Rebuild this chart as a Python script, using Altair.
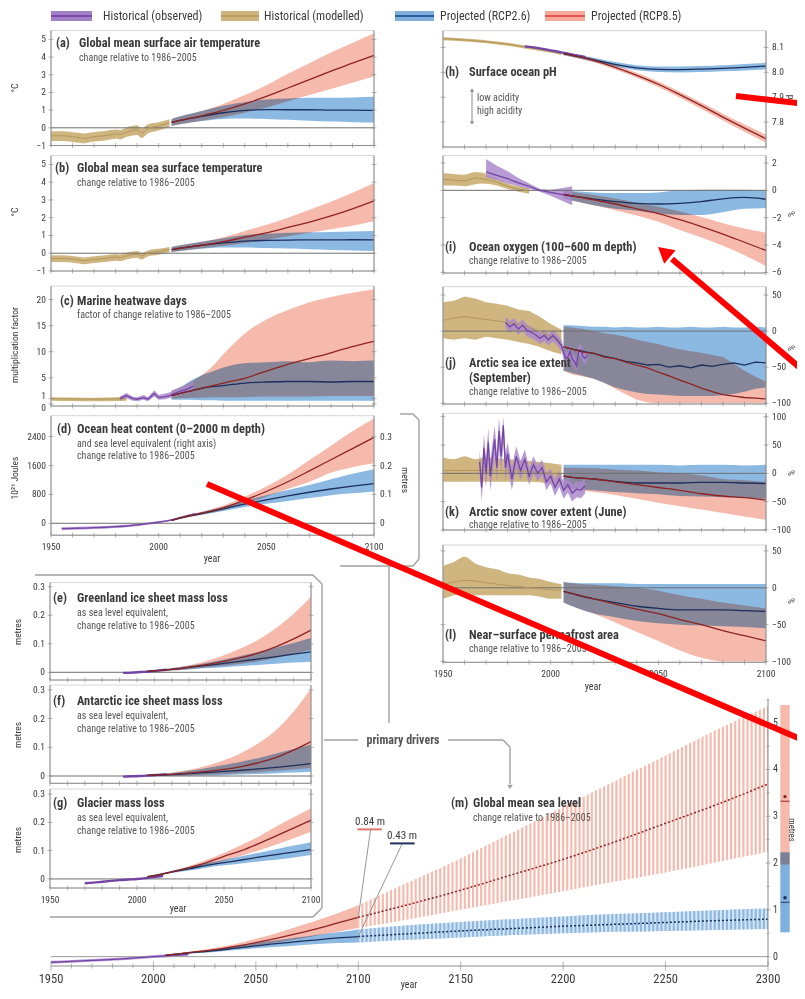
import altair as alt
import pandas as pd

# ======================= DATA =======================
YP = [2006, 2010, 2020, 2030, 2040, 2050, 2060, 2070, 2080, 2090, 2100]
DEC = [1950, 1960, 1970, 1980, 1990, 2000, 2010, 2020, 2030, 2040, 2050, 2060, 2070, 2080, 2090, 2100]
XLAB = [1950, 2000, 2050, 2100]

# (a) surface air temperature
a_hist_years = [1950, 1955, 1960, 1963, 1965, 1970, 1975, 1980, 1982, 1985, 1990, 1992, 1995, 2000, 2005]
a_hist = [-0.45, -0.45, -0.50, -0.55, -0.60, -0.50, -0.45, -0.35, -0.38, -0.25, -0.12, -0.30, -0.05, 0.10, 0.28]
a_hist_lo = [-0.75, -0.75, -0.80, -0.85, -0.88, -0.78, -0.72, -0.62, -0.66, -0.52, -0.40, -0.58, -0.32, -0.15, 0.05]
a_hist_hi = [-0.20, -0.20, -0.25, -0.28, -0.32, -0.24, -0.18, -0.10, -0.12, 0.02, 0.14, -0.04, 0.20, 0.32, 0.48]
a_r85 = [0.30, 0.42, 0.68, 0.98, 1.35, 1.78, 2.25, 2.72, 3.20, 3.65, 4.10]
a_r85_lo = [0.10, 0.20, 0.40, 0.60, 0.85, 1.15, 1.50, 1.85, 2.20, 2.55, 2.90]
a_r85_hi = [0.50, 0.65, 0.95, 1.35, 1.85, 2.40, 3.05, 3.65, 4.25, 4.80, 5.35]
a_r26 = [0.30, 0.42, 0.65, 0.85, 0.98, 1.03, 1.02, 1.02, 1.00, 1.00, 0.98]
a_r26_lo = [0.10, 0.20, 0.38, 0.50, 0.52, 0.50, 0.45, 0.40, 0.35, 0.32, 0.30]
a_r26_hi = [0.50, 0.65, 0.95, 1.25, 1.45, 1.60, 1.65, 1.70, 1.70, 1.72, 1.75]

# (b) sea surface temperature
b_hist = [-0.30, -0.30, -0.33, -0.38, -0.42, -0.35, -0.30, -0.22, -0.25, -0.15, -0.05, -0.15, 0.00, 0.10, 0.20]
b_hist_lo = [-0.50, -0.50, -0.53, -0.58, -0.62, -0.55, -0.50, -0.42, -0.45, -0.35, -0.25, -0.35, -0.18, -0.08, 0.05]
b_hist_hi = [-0.12, -0.12, -0.15, -0.20, -0.24, -0.17, -0.12, -0.05, -0.07, 0.03, 0.12, 0.02, 0.16, 0.25, 0.35]
b_r85 = [0.20, 0.28, 0.45, 0.65, 0.90, 1.15, 1.45, 1.75, 2.10, 2.50, 2.95]
b_r85_lo = [0.05, 0.12, 0.28, 0.42, 0.58, 0.75, 0.95, 1.15, 1.35, 1.55, 1.80]
b_r85_hi = [0.35, 0.45, 0.65, 0.90, 1.25, 1.60, 2.00, 2.45, 2.90, 3.40, 3.95]
b_r26 = [0.20, 0.28, 0.45, 0.58, 0.68, 0.72, 0.74, 0.75, 0.75, 0.76, 0.75]
b_r26_lo = [0.05, 0.12, 0.25, 0.32, 0.32, 0.30, 0.26, 0.22, 0.18, 0.15, 0.12]
b_r26_hi = [0.35, 0.45, 0.65, 0.85, 1.02, 1.10, 1.15, 1.18, 1.20, 1.22, 1.25]

# (c) marine heatwave days
c_hist_years = [1950, 1960, 1970, 1980, 1985]
c_hist = [1.0, 0.95, 0.9, 0.95, 1.0]
c_hist_lo = [0.6, 0.55, 0.5, 0.55, 0.6]
c_hist_hi = [1.3, 1.25, 1.2, 1.3, 1.35]
c_obs_years = [1982, 1985, 1988, 1990, 1993, 1995, 1998, 2000, 2003, 2005, 2008, 2010, 2013, 2016]
c_obs = [1.0, 1.6, 1.0, 0.9, 1.2, 0.9, 2.0, 1.2, 1.4, 1.6, 2.1, 2.4, 2.8, 3.4]
c_obs_lo = [0.6, 1.1, 0.6, 0.5, 0.8, 0.5, 1.4, 0.8, 0.9, 1.1, 1.5, 1.7, 2.0, 2.5]
c_obs_hi = [1.4, 2.1, 1.4, 1.3, 1.7, 1.3, 2.6, 1.7, 2.0, 2.2, 2.8, 3.2, 3.6, 4.3]
c_years = [2006, 2010, 2015, 2020, 2025, 2030, 2040, 2050, 2060, 2070, 2080, 2090, 2100]
c_r85 = [1.6, 2.0, 2.5, 3.0, 3.5, 4.0, 4.9, 6.3, 7.6, 8.7, 9.8, 11.0, 12.0]
c_r85_lo = [1.0, 1.1, 1.2, 1.2, 1.3, 1.3, 1.3, 1.4, 1.4, 1.4, 1.5, 1.5, 1.5]
c_r85_hi = [2.5, 3.2, 4.2, 5.5, 7.2, 9.5, 13.5, 16.2, 18.0, 19.5, 20.5, 21.3, 22.0]
c_r26 = [1.6, 2.0, 2.5, 3.0, 3.3, 3.5, 4.0, 4.2, 4.3, 4.3, 4.2, 4.3, 4.3]
c_r26_lo = [0.8, 0.8, 0.8, 0.7, 0.7, 0.6, 0.6, 0.6, 0.6, 0.6, 0.6, 0.6, 0.6]
c_r26_hi = [2.5, 3.2, 4.5, 5.5, 6.2, 7.0, 7.8, 8.0, 8.2, 8.0, 8.3, 8.2, 8.3]

# (d) ocean heat content (10^21 J)
d_obs_years = [1955, 1960, 1965, 1970, 1975, 1980, 1985, 1990, 1995, 2000, 2005, 2010, 2015, 2017]
d_obs = [-150, -140, -135, -120, -110, -95, -75, -45, -10, 30, 80, 150, 230, 260]
d_obs_lo = [-190, -180, -175, -160, -148, -132, -110, -80, -42, 0, 55, 125, 200, 230]
d_obs_hi = [-110, -100, -95, -80, -72, -58, -40, -10, 22, 60, 105, 175, 260, 290]
d_r85 = [80, 150, 280, 430, 640, 880, 1150, 1450, 1760, 2070, 2380]
d_r85_lo = [60, 120, 240, 370, 540, 740, 950, 1150, 1400, 1550, 1660]
d_r85_hi = [100, 180, 320, 490, 740, 1020, 1350, 1750, 2150, 2550, 2900]
d_r26 = [80, 150, 270, 400, 530, 650, 760, 860, 950, 1030, 1100]
d_r26_lo = [60, 120, 235, 340, 450, 540, 620, 700, 780, 830, 880]
d_r26_hi = [100, 180, 310, 460, 620, 780, 920, 1060, 1220, 1370, 1500]
d_right_pos = [0, 800, 1600, 2400]
d_right_lab = ["0", "0.1", "0.2", "0.3"]

# (e) Greenland, (f) Antarctic, (g) glaciers (metres SLE)
ef_obs_years = [1992, 1997, 2002, 2007, 2012, 2017]
e_obs = [-0.002, -0.001, 0.001, 0.003, 0.006, 0.009]
e_r85 = [0.003, 0.005, 0.010, 0.018, 0.027, 0.038, 0.052, 0.068, 0.090, 0.117, 0.148]
e_r85_lo = [0.002, 0.003, 0.006, 0.011, 0.017, 0.023, 0.030, 0.039, 0.050, 0.064, 0.080]
e_r85_hi = [0.004, 0.007, 0.015, 0.025, 0.040, 0.060, 0.085, 0.115, 0.155, 0.205, 0.265]
e_r26 = [0.003, 0.005, 0.010, 0.017, 0.024, 0.031, 0.039, 0.047, 0.055, 0.064, 0.072]
e_r26_lo = [0.002, 0.003, 0.006, 0.010, 0.015, 0.018, 0.022, 0.026, 0.030, 0.034, 0.037]
e_r26_hi = [0.004, 0.007, 0.014, 0.023, 0.033, 0.045, 0.058, 0.072, 0.087, 0.103, 0.120]
f_obs = [-0.002, -0.001, 0.000, 0.002, 0.004, 0.006]
f_r85 = [0.002, 0.003, 0.006, 0.010, 0.016, 0.023, 0.033, 0.047, 0.065, 0.090, 0.120]
f_r85_lo = [0.0, 0.0, 0.001, 0.002, 0.004, 0.006, 0.010, 0.013, 0.018, 0.023, 0.028]
f_r85_hi = [0.004, 0.006, 0.012, 0.022, 0.036, 0.055, 0.080, 0.115, 0.160, 0.225, 0.305]
f_r26 = [0.002, 0.003, 0.005, 0.008, 0.012, 0.016, 0.020, 0.025, 0.030, 0.036, 0.043]
f_r26_lo = [0.0, 0.0, 0.0, 0.001, 0.002, 0.003, 0.005, 0.007, 0.010, 0.012, 0.015]
f_r26_hi = [0.004, 0.006, 0.010, 0.018, 0.028, 0.038, 0.050, 0.063, 0.078, 0.094, 0.110]
g_obs_years = [1970, 1975, 1980, 1985, 1990, 1995, 2000, 2005, 2010, 2015]
g_obs = [-0.015, -0.013, -0.010, -0.007, -0.004, -0.002, 0.000, 0.003, 0.007, 0.011]
g_r85 = [0.008, 0.012, 0.025, 0.040, 0.058, 0.080, 0.100, 0.125, 0.152, 0.180, 0.208]
g_r85_lo = [0.006, 0.010, 0.022, 0.034, 0.048, 0.064, 0.082, 0.101, 0.122, 0.144, 0.167]
g_r85_hi = [0.010, 0.015, 0.028, 0.046, 0.068, 0.092, 0.120, 0.150, 0.185, 0.218, 0.250]
g_r26 = [0.008, 0.012, 0.025, 0.036, 0.048, 0.058, 0.067, 0.077, 0.086, 0.095, 0.104]
g_r26_lo = [0.006, 0.010, 0.021, 0.030, 0.040, 0.048, 0.055, 0.062, 0.068, 0.076, 0.085]
g_r26_hi = [0.010, 0.015, 0.029, 0.042, 0.056, 0.068, 0.080, 0.093, 0.105, 0.118, 0.130]
sle_ticks = [0, 0.1, 0.2, 0.3]
sle_labels = ["0", "0.1", "0.2", "0.3"]

# (h) surface ocean pH
h_hist_years = [1950, 1960, 1970, 1980, 1990, 2000, 2005]
h_hist = [8.135, 8.130, 8.123, 8.113, 8.099, 8.084, 8.075]
h_hist_lo = [8.129, 8.124, 8.117, 8.107, 8.093, 8.078, 8.069]
h_hist_hi = [8.141, 8.136, 8.129, 8.119, 8.105, 8.090, 8.081]
h_obs_years = [1988, 1995, 2000, 2005, 2010, 2016]
h_obs = [8.104, 8.096, 8.088, 8.080, 8.071, 8.062]
h_r85 = [8.075, 8.068, 8.048, 8.020, 7.988, 7.952, 7.910, 7.866, 7.820, 7.776, 7.733]
h_r85_lo = [8.068, 8.061, 8.040, 8.011, 7.978, 7.941, 7.898, 7.853, 7.806, 7.761, 7.717]
h_r85_hi = [8.082, 8.075, 8.056, 8.029, 7.998, 7.963, 7.922, 7.879, 7.834, 7.791, 7.749]
h_r26 = [8.075, 8.068, 8.050, 8.032, 8.018, 8.012, 8.011, 8.013, 8.016, 8.020, 8.025]
h_r26_lo = [8.068, 8.061, 8.042, 8.023, 8.008, 8.001, 7.999, 8.001, 8.004, 8.007, 8.012]
h_r26_hi = [8.082, 8.075, 8.058, 8.041, 8.028, 8.023, 8.023, 8.025, 8.028, 8.033, 8.038]

# (i) ocean oxygen (%)
i_hist_years = [1950, 1955, 1960, 1965, 1968, 1975, 1980, 1985, 1990]
i_hist = [0.80, 0.75, 0.70, 0.90, 0.85, 0.60, 0.30, 0.10, -0.05]
i_hist_lo = [0.35, 0.35, 0.30, 0.45, 0.50, 0.35, 0.10, -0.10, -0.25]
i_hist_hi = [1.25, 1.20, 1.15, 1.35, 1.30, 0.85, 0.50, 0.30, 0.15]
i_obs_years = [1970, 1975, 1980, 1985, 1990, 1995, 2000, 2005, 2010]
i_obs = [1.35, 1.10, 0.85, 0.55, 0.30, 0.00, -0.15, -0.30, -0.45]
i_obs_lo = [0.95, 0.75, 0.50, 0.30, 0.12, -0.10, -0.40, -0.75, -1.10]
i_obs_hi = [2.30, 1.80, 1.40, 0.90, 0.50, 0.10, 0.05, 0.15, 0.30]
i_r85 = [-0.30, -0.40, -0.70, -1.00, -1.35, -1.70, -2.15, -2.65, -3.20, -3.80, -4.40]
i_r85_lo = [-0.60, -0.75, -1.10, -1.45, -1.85, -2.30, -2.90, -3.45, -4.05, -4.75, -5.55]
i_r85_hi = [0.00, -0.10, -0.35, -0.60, -0.90, -1.20, -1.55, -1.95, -2.40, -2.80, -3.10]
i_r26 = [-0.30, -0.40, -0.65, -0.82, -0.95, -1.00, -0.95, -0.82, -0.62, -0.52, -0.65]
i_r26_lo = [-0.60, -0.75, -1.10, -1.35, -1.50, -1.70, -1.80, -1.80, -1.60, -1.35, -1.30]
i_r26_hi = [0.00, -0.05, -0.15, -0.20, -0.20, -0.15, 0.00, 0.05, 0.05, 0.05, 0.00]

# (j) Arctic sea ice extent, September (%)
j_hist_years = [1950, 1955, 1960, 1965, 1970, 1975, 1980, 1985, 1990, 1995, 2000, 2005]
j_hist = [15, 18, 20, 18, 16, 14, 12, 10, 5, 0, -8, -15]
j_hist_lo = [-10, -12, -10, -12, -8, -10, -12, -15, -18, -22, -28, -32]
j_hist_hi = [40, 42, 48, 45, 40, 38, 35, 30, 28, 20, 10, 2]
j_obs_years = [1979, 1981, 1983, 1985, 1987, 1989, 1991, 1993, 1995, 1997, 1999, 2001, 2003, 2005,
               2007, 2008, 2009, 2010, 2011, 2012, 2013, 2014, 2015, 2016, 2017]
j_obs = [12, 6, 10, 3, 8, 1, -2, -5, -10, -6, -12, -6, -12, -20, -38, -36, -28, -38, -42, -48, -28, -26, -35, -38, -33]
j_obs_lo = [4, -2, 2, -5, 0, -7, -10, -13, -18, -14, -20, -14, -20, -28, -46, -44, -36, -46, -50, -56, -36, -34, -43, -46, -41]
j_obs_hi = [20, 14, 18, 11, 16, 9, 6, 3, -2, 2, -4, 2, -4, -12, -30, -28, -20, -30, -34, -40, -20, -18, -27, -30, -25]
j_years = [2006, 2010, 2015, 2020, 2025, 2030, 2035, 2040, 2045, 2050, 2055, 2060, 2065, 2070, 2075, 2080, 2085, 2090, 2095, 2100]
j_r85 = [-22, -25, -29, -31, -36, -38, -43, -47, -51, -57, -62, -68, -73, -79, -84, -88, -90, -92, -93, -94]
j_r85_lo = [-55, -60, -63, -66, -72, -80, -88, -95, -99, -100, -100, -100, -100, -100, -100, -100, -100, -100, -100, -100]
j_r85_hi = [6, 5, 3, 0, -3, -5, -8, -12, -15, -18, -22, -25, -28, -30, -33, -36, -45, -55, -63, -70]
j_r26 = [-22, -25, -28, -31, -35, -38, -42, -44, -47, -46, -50, -48, -51, -47, -49, -46, -44, -47, -43, -44]
j_r26_lo = [-55, -58, -62, -66, -72, -78, -82, -85, -87, -88, -89, -90, -90, -90, -90, -89, -87, -84, -80, -78]
j_r26_hi = [8, 8, 7, 6, 6, 5, 6, 5, 5, 6, 5, 5, 6, 5, 5, 6, 5, 5, 6, 5]

# (k) Arctic snow cover extent, June (%)
k_hist_years = [1950, 1955, 1960, 1965, 1970, 1980, 1990, 2000, 2005]
k_hist = [5, 5, 5, 5, 5, 5, 3, 0, -2]
k_hist_lo = [-15, -15, -15, -15, -15, -15, -15, -18, -20]
k_hist_hi = [28, 25, 30, 25, 28, 25, 22, 18, 15]
k_obs_years = [1967, 1968, 1969, 1970, 1971, 1972, 1973, 1974, 1975, 1976, 1977, 1978, 1979, 1980, 1982, 1984,
               1986, 1988, 1990, 1992, 1994, 1996, 1998, 2000, 2002, 2004, 2006, 2008, 2010, 2012, 2014, 2016]
k_obs = [20, -25, 45, 0, 55, -5, 30, 60, 10, 75, 30, 85, 10, 35, -10, 30, 5, 25, -5, 15, 0, 10, -15, -5, -25, -10, -30, -20, -35, -28, -30, -22]
k_obs_lo = [0, -50, 15, -25, 25, -30, 0, 30, -15, 45, 0, 55, -15, 10, -30, 10, -12, 8, -20, 0, -14, -4, -30, -18, -40, -24, -45, -34, -50, -42, -44, -36]
k_obs_hi = [40, 0, 70, 25, 80, 20, 55, 85, 35, 98, 55, 100, 35, 55, 10, 48, 22, 42, 10, 30, 14, 24, 0, 8, -10, 4, -15, -6, -20, -14, -16, -8]
k_r85 = [-5, -7, -10, -15, -20, -25, -30, -36, -40, -43, -47]
k_r85_lo = [-25, -28, -33, -38, -45, -52, -58, -64, -70, -76, -82]
k_r85_hi = [10, 10, 9, 7, 5, 2, 0, -4, -10, -12, -15]
k_r26 = [-5, -7, -10, -14, -17, -17, -17, -16, -16, -17, -18]
k_r26_lo = [-25, -27, -30, -33, -35, -37, -40, -41, -42, -43, -45]
k_r26_hi = [15, 15, 15, 15, 15, 15, 14, 15, 15, 14, 15]

# (l) near-surface permafrost area (%)
l_hist_years = [1950, 1955, 1960, 1965, 1970, 1975, 1980, 1985, 1990, 1995, 2000, 2005]
l_hist = [5, 8, 10, 9, 7, 5, 3, 2, 0, -1, -3, -3]
l_hist_lo = [-15, -10, -8, -10, -10, -10, -10, -10, -10, -12, -15, -15]
l_hist_hi = [30, 35, 42, 33, 28, 25, 20, 18, 14, 12, 8, 5]
l_r85 = [-5, -8, -15, -22, -29, -35, -43, -50, -58, -65, -72]
l_r85_lo = [-20, -25, -35, -47, -60, -72, -85, -95, -100, -100, -100]
l_r85_hi = [8, 6, 4, 2, 0, -4, -10, -15, -20, -24, -28]
l_r26 = [-5, -8, -15, -20, -25, -28, -30, -30, -30, -31, -32]
l_r26_lo = [-20, -25, -35, -40, -45, -48, -50, -51, -52, -53, -55]
l_r26_hi = [8, 7, 6, 6, 5, 5, 5, 5, 5, 5, 5]
pct_ticks = [-100, -50, 0, 50]
pct_labels = ["−100", "−50", "0", "50"]

# (m) global mean sea level (metres)
m_obs_years = [1950, 1960, 1970, 1980, 1990, 2000, 2010, 2017]
m_obs = [-0.12, -0.10, -0.08, -0.06, -0.03, 0.00, 0.03, 0.05]
m_obs_lo = [-0.15, -0.13, -0.11, -0.09, -0.06, -0.03, 0.00, 0.02]
m_obs_hi = [-0.09, -0.07, -0.05, -0.03, 0.00, 0.03, 0.06, 0.08]
m_r85 = [0.03, 0.05, 0.10, 0.15, 0.22, 0.30, 0.39, 0.49, 0.60, 0.72, 0.84]
m_r85_lo = [0.02, 0.04, 0.08, 0.12, 0.17, 0.23, 0.30, 0.37, 0.45, 0.53, 0.61]
m_r85_hi = [0.04, 0.06, 0.12, 0.19, 0.27, 0.38, 0.50, 0.64, 0.78, 0.93, 1.10]
m_r26 = [0.03, 0.05, 0.09, 0.13, 0.18, 0.23, 0.28, 0.32, 0.36, 0.40, 0.43]
m_r26_lo = [0.02, 0.04, 0.07, 0.10, 0.14, 0.18, 0.21, 0.24, 0.27, 0.29, 0.30]
m_r26_hi = [0.04, 0.06, 0.11, 0.16, 0.22, 0.29, 0.35, 0.41, 0.47, 0.52, 0.58]
m_ext_years = [2100, 2125, 2150, 2175, 2200, 2225, 2250, 2275, 2300]
m_r85_ext = [0.84, 1.12, 1.42, 1.75, 2.08, 2.45, 2.85, 3.25, 3.69]
m_r85_ext_lo = [0.61, 0.80, 1.00, 1.20, 1.40, 1.60, 1.80, 2.02, 2.24]
m_r85_ext_hi = [1.10, 1.60, 2.10, 2.65, 3.20, 3.75, 4.30, 4.85, 5.35]
m_r26_ext = [0.43, 0.49, 0.55, 0.60, 0.65, 0.69, 0.73, 0.77, 0.80]
m_r26_ext_lo = [0.30, 0.36, 0.41, 0.46, 0.50, 0.53, 0.55, 0.57, 0.59]
m_r26_ext_hi = [0.58, 0.67, 0.74, 0.80, 0.86, 0.91, 0.95, 0.99, 1.03]
m_bar_r85 = [1.97, 5.38]
m_bar_r26 = [0.52, 2.23]
m_bar_median = [3.32, 1.16]

# ======================= STYLE / LAYOUT =======================
FONT = "Liberation Sans Narrow, Roboto Condensed, DejaVu Sans Condensed, Arial Narrow, Liberation Sans, sans-serif"
M = 8  # page margin
C_TAN, C_TAN_L = "#cfb681", "#b3975a"
C_OBS, C_OBS_L = "#ab88cc", "#7444a3"
C_R26, C_R26_L = "#8cb9e2", "#1d2f5c"
C_R85, C_R85_L = "#f6baad", "#8e2323"
AX = "#8c8c8c"
FR = "#d6d6d6"
ZL = "#707070"
TXT = "#3a3a3a"
FS_TICK = 9.5
FS_TITLE = 12.4
FS_SUB = 10

GEOM = {
    'a': dict(x=(1950, 2100), xr=(51, 374), y=(-1, 5.5), yr=(145.5, 30.5)),
    'b': dict(x=(1950, 2100), xr=(51, 374), y=(-1, 5.5), yr=(271, 155.5)),
    'c': dict(x=(1950, 2100), xr=(51, 374), y=(-0.4, 22.6), yr=(406, 286)),
    'd': dict(x=(1950, 2100), xr=(51, 374), y=(-330, 2980), yr=(535.2, 415.7)),
    'e': dict(x=(1950, 2100), xr=(50, 311), y=(-0.027, 0.315), yr=(680, 582.5)),
    'f': dict(x=(1950, 2100), xr=(50, 311), y=(-0.0254, 0.317), yr=(783.3, 685)),
    'g': dict(x=(1950, 2100), xr=(50, 311), y=(-0.032, 0.318), yr=(888, 789)),
    'h': dict(x=(1950, 2100), xr=(443, 766), y=(7.7, 8.167), yr=(147, 30.7)),
    'i': dict(x=(1950, 2100), xr=(443, 766), y=(-6.05, 2.55), yr=(273, 155.5)),
    'j': dict(x=(1950, 2100), xr=(443, 766), y=(-101, 61.5), yr=(404, 286.7)),
    'k': dict(x=(1950, 2100), xr=(443, 766), y=(-100, 106), yr=(530, 413.3)),
    'l': dict(x=(1950, 2100), xr=(443, 766), y=(-101, 58), yr=(662.3, 545)),
    'm': dict(x=(1950, 2300), xr=(51, 768), y=(-0.2, 5.5), yr=(966, 699.3)),
}


def pdf(**cols):
    return pd.DataFrame(cols)


class Panel:
    def __init__(self, key):
        g = GEOM[key]
        self.x0, self.x1 = g['x']
        self.y0, self.y1 = g['y']
        self.xs = alt.Scale(domain=[self.x0, self.x1], range=[g['xr'][0] - M, g['xr'][1] - M], nice=False, zero=False)
        self.ys = alt.Scale(domain=[self.y0, self.y1], range=[g['yr'][0] - M, g['yr'][1] - M], nice=False, zero=False)
        self.L = []

    def X(self, f):
        return alt.X(f + ':Q', scale=self.xs, axis=None)

    def Y(self, f):
        return alt.Y(f + ':Q', scale=self.ys, axis=None)

    def band(self, t, lo, hi, color, opacity=1.0, blend=None, interp='monotone'):
        kw = dict(color=color, opacity=opacity, interpolate=interp)
        if blend:
            kw['blend'] = blend
        self.L.append(alt.Chart(pdf(t=t, lo=lo, hi=hi)).mark_area(**kw).encode(
            x=self.X('t'), y=self.Y('lo'), y2=alt.Y2('hi')))

    def line(self, t, v, color, width=1.2, dash=None, interp='monotone'):
        kw = dict(color=color, strokeWidth=width, interpolate=interp)
        if dash:
            kw['strokeDash'] = dash
        self.L.append(alt.Chart(pdf(t=t, v=v)).mark_line(**kw).encode(x=self.X('t'), y=self.Y('v')))

    def rect(self, t0, t1, v0, v1, color, blend=None):
        kw = dict(color=color)
        if blend:
            kw['blend'] = blend
        self.L.append(alt.Chart(pdf(a=[t0], b=[t1], c=[v0], d=[v1])).mark_rect(**kw).encode(
            x=self.X('a'), x2=alt.X2('b'), y=self.Y('c'), y2=alt.Y2('d')))

    def frame(self, color=FR):
        self.L.append(alt.Chart(pdf(a=[self.x0], b=[self.x1], c=[self.y0], d=[self.y1])).mark_rect(
            fill='white', fillOpacity=0, stroke=color, strokeWidth=1).encode(
            x=self.X('a'), x2=alt.X2('b'), y=self.Y('c'), y2=alt.Y2('d')))

    def hline(self, v, color=ZL, width=1.0):
        self.L.append(alt.Chart(pdf(a=[self.x0], b=[self.x1], v=[v])).mark_rule(color=color, strokeWidth=width).encode(
            x=self.X('a'), x2=alt.X2('b'), y=self.Y('v')))

    def vline(self, t, color=AX, width=1.0):
        self.L.append(alt.Chart(pdf(t=[t], c=[self.y0], d=[self.y1])).mark_rule(color=color, strokeWidth=width).encode(
            x=self.X('t'), y=self.Y('c'), y2=alt.Y2('d')))

    def yticks(self, vals, labels=None, lpos=None, side='left', size=5, fs=FS_TICK, dx=None):
        t = self.x0 if side == 'left' else self.x1
        self.L.append(alt.Chart(pdf(t=[t] * len(vals), v=vals)).mark_tick(
            orient='horizontal', size=size, thickness=0.9, color=AX).encode(x=self.X('t'), y=self.Y('v')))
        if labels:
            pos = lpos if lpos else vals
            if dx is None:
                dx = -5 if side == 'left' else 6
            self.L.append(alt.Chart(pdf(t=[t] * len(pos), v=pos, s=labels)).mark_text(
                align='right' if side == 'left' else 'left', baseline='middle', dx=dx,
                fontSize=fs, font=FONT, color=TXT).encode(x=self.X('t'), y=self.Y('v'), text='s:N'))

    def xticks(self, vals, size=5, labels=None, fs=FS_TICK, dy=7):
        self.L.append(alt.Chart(pdf(t=vals, v=[self.y0] * len(vals))).mark_tick(
            orient='vertical', size=size, thickness=0.9, color=AX).encode(x=self.X('t'), y=self.Y('v')))
        if labels:
            self.L.append(alt.Chart(pdf(t=labels, v=[self.y0] * len(labels), s=[str(v) for v in labels])).mark_text(
                align='center', baseline='top', dy=dy, fontSize=fs, font=FONT, color=TXT).encode(
                x=self.X('t'), y=self.Y('v'), text='s:N'))

    def chart(self):
        return alt.layer(*self.L)


def std(key, hist=None, obs=None, r85=None, r26=None, ptimes=YP, zero=True, left=None, right=None,
        xlabels=False, interp='monotone', obs_interp='linear'):
    p = Panel(key)
    p.frame()
    if hist:
        p.band(hist[0], hist[2], hist[3], C_TAN, interp=interp)
    if r85:
        p.band(ptimes, r85[1], r85[2], C_R85, interp=interp)
    if r26:
        p.band(ptimes, r26[1], r26[2], C_R26, blend='multiply', interp=interp)
    if obs and len(obs) == 4:
        p.band(obs[0], obs[2], obs[3], C_OBS, opacity=0.85, interp=obs_interp)
    if zero:
        p.hline(0)
    if hist:
        p.line(hist[0], hist[1], C_TAN_L, 1.0, interp=interp)
    if obs:
        p.line(obs[0], obs[1], C_OBS_L, 1.3 if len(obs) == 4 else 2.4, interp=obs_interp)
    if r26:
        p.line(ptimes, r26[0], C_R26_L, 1.3, interp=interp)
    if r85:
        p.line(ptimes, r85[0], C_R85_L, 1.3, interp=interp)
    if left:
        p.vline(p.x0)
        p.yticks(*left, side='left')
    if right:
        p.vline(p.x1)
        p.yticks(*right, side='right')
    p.hline(p.y0, AX, 1.0)
    p.xticks(DEC, labels=XLAB if xlabels else None)
    return p


temp_ticks = ([-1, 0, 1, 2, 3, 4, 5], ["−1", "0", "1", "2", "3", "4", "5"])
c_ticks = [0, 1, 5, 10, 15, 20]

pa = std('a', hist=(a_hist_years, a_hist, a_hist_lo, a_hist_hi), r85=(a_r85, a_r85_lo, a_r85_hi),
         r26=(a_r26, a_r26_lo, a_r26_hi), left=temp_ticks, right=(temp_ticks[0],))
pb = std('b', hist=(a_hist_years, b_hist, b_hist_lo, b_hist_hi), r85=(b_r85, b_r85_lo, b_r85_hi),
         r26=(b_r26, b_r26_lo, b_r26_hi), left=temp_ticks, right=(temp_ticks[0],))
pc = std('c', hist=(c_hist_years, c_hist, c_hist_lo, c_hist_hi), obs=(c_obs_years, c_obs, c_obs_lo, c_obs_hi),
         r85=(c_r85, c_r85_lo, c_r85_hi), r26=(c_r26, c_r26_lo, c_r26_hi), ptimes=c_years, zero=False,
         left=(c_ticks, ["0", "1", "5", "10", "15", "20"], [-0.7, 1.6, 5, 10, 15, 20]), right=(c_ticks,))
pd_ = std('d', obs=(d_obs_years, d_obs, d_obs_lo, d_obs_hi), r85=(d_r85, d_r85_lo, d_r85_hi),
          r26=(d_r26, d_r26_lo, d_r26_hi), left=([0, 800, 1600, 2400], ["0", "800", "1600", "2400"]),
          right=(d_right_pos, d_right_lab), xlabels=True, obs_interp='monotone')
pe = std('e', obs=(ef_obs_years, e_obs), r85=(e_r85, e_r85_lo, e_r85_hi), r26=(e_r26, e_r26_lo, e_r26_hi),
         left=(sle_ticks, sle_labels), right=(sle_ticks,), obs_interp='monotone')
pf = std('f', obs=(ef_obs_years, f_obs), r85=(f_r85, f_r85_lo, f_r85_hi), r26=(f_r26, f_r26_lo, f_r26_hi),
         left=(sle_ticks, sle_labels), right=(sle_ticks,), obs_interp='monotone')
pg = std('g', obs=(g_obs_years, g_obs), r85=(g_r85, g_r85_lo, g_r85_hi), r26=(g_r26, g_r26_lo, g_r26_hi),
         left=(sle_ticks, sle_labels), right=(sle_ticks,), xlabels=True, obs_interp='monotone')
ph = std('h', hist=(h_hist_years, h_hist, h_hist_lo, h_hist_hi), obs=(h_obs_years, h_obs),
         r85=(h_r85, h_r85_lo, h_r85_hi), r26=(h_r26, h_r26_lo, h_r26_hi), zero=False,
         left=([7.8, 7.9, 8.0, 8.1],), right=([7.8, 7.9, 8.0, 8.1], ["7.8", "7.9", "8.0", "8.1"]),
         obs_interp='monotone')
pi = std('i', hist=(i_hist_years, i_hist, i_hist_lo, i_hist_hi), obs=(i_obs_years, i_obs, i_obs_lo, i_obs_hi),
         r85=(i_r85, i_r85_lo, i_r85_hi), r26=(i_r26, i_r26_lo, i_r26_hi),
         left=([-6, -4, -2, 0, 2],), right=([-6, -4, -2, 0, 2], ["−6", "−4", "−2", "0", "2"]))
pj = std('j', hist=(j_hist_years, j_hist, j_hist_lo, j_hist_hi), obs=(j_obs_years, j_obs, j_obs_lo, j_obs_hi),
         r85=(j_r85, j_r85_lo, j_r85_hi), r26=(j_r26, j_r26_lo, j_r26_hi), ptimes=j_years,
         left=(pct_ticks,), right=(pct_ticks, pct_labels), interp='linear')
pk = std('k', hist=(k_hist_years, k_hist, k_hist_lo, k_hist_hi), obs=(k_obs_years, k_obs, k_obs_lo, k_obs_hi),
         r85=(k_r85, k_r85_lo, k_r85_hi), r26=(k_r26, k_r26_lo, k_r26_hi),
         left=([-100, -50, 0, 50, 100],), right=([-100, -50, 0, 50, 100], ["−100", "−50", "0", "50", "100"]))
pl = std('l', hist=(l_hist_years, l_hist, l_hist_lo, l_hist_hi), r85=(l_r85, l_r85_lo, l_r85_hi),
         r26=(l_r26, l_r26_lo, l_r26_hi), left=(pct_ticks,), right=(pct_ticks, pct_labels), xlabels=True)

# (m) global mean sea level
pm = Panel('m')
pm.band(m_obs_years, m_obs_lo, m_obs_hi, C_OBS, opacity=0.85)
pm.band(YP, m_r85_lo, m_r85_hi, C_R85)
pm.band(YP, m_r26_lo, m_r26_hi, C_R26, blend='multiply')
pm.band(m_ext_years, m_r85_ext_lo, m_r85_ext_hi, C_R85)
pm.band(m_ext_years, m_r26_ext_lo, m_r26_ext_hi, "#7aaad8", blend='multiply')
HATCH = list(range(2101, 2300, 2))  # hatching style of the post-2100 ranges
pm.L.append(alt.Chart(pdf(t=HATCH, lo=[0.1] * len(HATCH), hi=[5.45] * len(HATCH))).mark_rule(
    color='white', strokeWidth=1.9).encode(x=pm.X('t'), y=pm.Y('lo'), y2=alt.Y2('hi')))
pm.band(m_ext_years, m_r26_ext_lo, m_r26_ext_hi, "#a9c9ea", opacity=0.45)
pm.hline(0, "#9a9a9a", 1.0)
pm.line(m_obs_years, m_obs, C_OBS_L, 1.3)
pm.line(YP, m_r26, C_R26_L, 1.3)
pm.line(YP, m_r85, C_R85_L, 1.3)
pm.line(m_ext_years, m_r85_ext, C_R85_L, 1.5, dash=[2, 2])
pm.line(m_ext_years, m_r26_ext, C_R26_L, 1.5, dash=[2, 2])
BAR_T = (2306.0, 2310.6)
pm.rect(BAR_T[0], BAR_T[1], m_bar_r85[0], m_bar_r85[1], C_R85)
pm.rect(BAR_T[0], BAR_T[1], m_bar_r26[0], m_bar_r26[1], "#7fb0dd", blend='multiply')
pm.L.append(alt.Chart(pdf(t=[sum(BAR_T) / 2] * 2, v=m_bar_median, c=[C_R85_L, C_R26_L])).mark_tick(
    orient='horizontal', size=9, thickness=1.4).encode(x=pm.X('t'), y=pm.Y('v'), color=alt.Color('c:N', scale=None)))
pm.L.append(alt.Chart(pdf(t=[sum(BAR_T) / 2] * 2, v=[m_bar_median[0] + 0.1, m_bar_median[1] + 0.1],
                          c=[C_R85_L, C_R26_L])).mark_point(filled=True, size=12, opacity=1).encode(
    x=pm.X('t'), y=pm.Y('v'), color=alt.Color('c:N', scale=None)))
pm.vline(pm.x1)
pm.yticks([0, 1, 2, 3, 4, 5], ["0", "1", "2", "3", "4", "5"], side='right', fs=10, dx=5)
pm.yticks([0.5, 1.5, 2.5, 3.5, 4.5, 5.5], side='right', size=3)
pm.hline(pm.y0, AX, 1.0)
pm.xticks([1960, 1970, 1980, 1990, 2010, 2020, 2030, 2040, 2060, 2070, 2080, 2090], size=5)
pm.xticks([1950, 2000, 2050, 2100, 2150, 2200, 2250, 2300], size=9,
          labels=[1950, 2000, 2050, 2100, 2150, 2200, 2250, 2300], fs=12.5, dy=7)
# annotation leader lines for the 2100 medians
pm.L.append(alt.Chart(pdf(a=[2106.0, 2121.5], b=[2100, 2100], c=[2.72, 2.42], d=[0.84, 0.43])).mark_rule(
    color="#8a8a8a", strokeWidth=0.9).encode(x=pm.X('a'), x2=alt.X2('b'), y=pm.Y('c'), y2=alt.Y2('d')))
pm.L.append(alt.Chart(pdf(a=[2099.5, 2115.5], b=[2111.5, 2127.5], c=[2.72, 2.42], col=["#e07868", C_R26_L])).mark_rule(
    strokeWidth=2).encode(x=pm.X('a'), x2=alt.X2('b'), y=pm.Y('c'), color=alt.Color('col:N', scale=None)))


# ======================= CANVAS (page-pixel annotations) =======================
def P(v):
    return v - M


def ctext(rows, size, weight='normal', color=TXT, align='left', angle=None, baseline='middle'):
    d = pdf(x=[P(r[0]) for r in rows], y=[P(r[1]) for r in rows], s=[r[2] for r in rows])
    kw = dict(font=FONT, fontSize=size, fontWeight=weight, color=color, align=align, baseline=baseline)
    if angle is not None:
        kw['angle'] = angle
    return alt.Chart(d).mark_text(**kw).encode(x=alt.X('x:Q', scale=None), y=alt.Y('y:Q', scale=None), text='s:N')


def crules(segs, color, width, cap='butt'):
    d = pdf(x=[P(s[0]) for s in segs], y=[P(s[1]) for s in segs], x2=[P(s[2]) for s in segs], y2=[P(s[3]) for s in segs])
    return alt.Chart(d).mark_rule(color=color, strokeWidth=width, strokeCap=cap).encode(
        x=alt.X('x:Q', scale=None), y=alt.Y('y:Q', scale=None), x2=alt.X2('x2'), y2=alt.Y2('y2'))


def crects(rows):
    d = pdf(x=[P(r[0]) for r in rows], x2=[P(r[1]) for r in rows], y=[P(r[2]) for r in rows],
            y2=[P(r[3]) for r in rows], c=[r[4] for r in rows])
    return alt.Chart(d).mark_rect().encode(x=alt.X('x:Q', scale=None), x2=alt.X2('x2'), y=alt.Y('y:Q', scale=None),
                                           y2=alt.Y2('y2'), color=alt.Color('c:N', scale=None))


legend_labels = ["Historical (observed)", "Historical (modelled)", "Projected (RCP2.6)", "Projected (RCP8.5)"]
legend_fill = ["#a37fc6", "#cdb47f", "#7fb0dd", "#f5a99b"]
legend_line = ["#7a48a8", "#b89a5c", "#2a5b9a", "#e0574e"]
LEG_X = [(51, 92, 103), (221, 259, 264), (395, 434, 440), (545, 585, 591)]
LEG_Y = 16

canvas = [
    crects([(lx[0], lx[1], LEG_Y - 5, LEG_Y + 5, legend_fill[i]) for i, lx in enumerate(LEG_X)]),
]
for i, lx in enumerate(LEG_X):
    canvas.append(crules([(lx[0], LEG_Y, lx[1], LEG_Y)], legend_line[i], 2))
canvas.append(ctext([(lx[2], LEG_Y, legend_labels[i]) for i, lx in enumerate(LEG_X)], 12))

SUB = "change relative to 1986–2005"
canvas += [
    ctext([(56, 43, "(a)"), (55, 168, "(b)"), (60, 301, "(c)"), (57, 429, "(d)"), (53, 598, "(e)"), (53, 701, "(f)"),
           (53, 803, "(g)"), (445, 72, "(h)"), (445, 247, "(i)"), (445, 363, "(j)"), (445, 512, "(k)"),
           (445, 635, "(l)"), (451, 803, "(m)")], FS_TITLE, 'bold'),
    ctext([(79, 43, "Global mean surface air temperature"), (77, 168, "Global mean sea surface temperature"),
           (77, 301, "Marine heatwave days"), (77, 429, "Ocean heat content (0–2000 m depth)"),
           (77, 598, "Greenland ice sheet mass loss"), (77, 701, "Antarctic ice sheet mass loss"),
           (77, 803, "Glacier mass loss"), (469, 72, "Surface ocean pH"),
           (469, 247, "Ocean oxygen (100–600 m depth)"), (469, 363, "Arctic sea ice extent"),
           (469, 378, "(September)"), (469, 512, "Arctic snow cover extent (June)"),
           (469, 635, "Near–surface permafrost area"), (473, 803, "Global mean sea level")], FS_TITLE, 'bold'),
    ctext([(79, 58, SUB), (77, 183, SUB), (77, 315, "factor of change relative to 1986–2005"),
           (77, 444, "and sea level equivalent (right axis)"), (77, 456, SUB),
           (77, 613, "as sea level equivalent,"), (77, 626, SUB), (77, 716, "as sea level equivalent,"),
           (77, 729, SUB), (77, 818, "as sea level equivalent,"), (77, 831, SUB),
           (469, 261, SUB), (469, 392, SUB), (469, 525, SUB), (469, 649, SUB), (473, 818, SUB),
           (477, 98, "low acidity"), (477, 111, "high acidity")], FS_SUB, color="#555555"),
    ctext([(15, 88, "°C"), (15, 212, "°C"), (15, 345, "multiplication factor"), (15, 478, "10²¹ Joules"),
           (18, 632, "metres"), (18, 735, "metres"), (18, 840, "metres")], 9.5, angle=270, align='center'),
    ctext([(405, 480, "metres"), (791, 100, "pH"), (791, 214, "%"), (791, 348, "%"), (791, 473, "%"),
           (791, 601, "%")], 9.5, angle=90, align='center'),
    ctext([(792, 830, "metres")], 8.5, angle=90, align='center'),
    ctext([(212, 559, "year"), (178, 909, "year"), (593, 687, "year"), (409, 985, "year")], 10, align='center'),
    ctext([(370, 822, "0.84 m"), (402, 836, "0.43 m")], 11, align='center'),
    ctext([(403, 740, "primary drivers")], 12, 'bold', color="#555555", align='center'),
    # acidity double arrow
    crules([(472, 90, 472, 123)], "#8a8a8a", 1),
]
canvas.append(alt.Chart(pdf(x=[P(472), P(472)], y=[P(90), P(123)], a=[0, 180])).mark_point(
    shape='triangle-up', filled=True, size=18, color="#8a8a8a", opacity=1).encode(
    x=alt.X('x:Q', scale=None), y=alt.Y('y:Q', scale=None), angle=alt.Angle('a:Q', scale=None)))
# grey connector brackets
canvas.append(crules([
    (400, 414, 413, 414), (413, 414, 419, 420), (419, 420, 419, 559), (419, 559, 413, 566), (340, 566, 413, 566),
    (389, 566, 389, 723),
    (324, 740, 358, 740), (448, 740, 503, 740), (503, 740, 510, 747), (510, 747, 510, 784),
    (35, 575, 313, 575), (313, 575, 322, 584), (322, 584, 322, 908), (322, 908, 313, 917), (50, 917, 313, 917),
], "#a0a0a0", 1.4))
canvas.append(alt.Chart(pdf(x=[P(510)], y=[P(787)])).mark_point(
    shape='triangle-down', filled=True, size=30, color="#a0a0a0", opacity=1).encode(
    x=alt.X('x:Q', scale=None), y=alt.Y('y:Q', scale=None)))
# red overlay arrows present in the reference image
canvas.append(crules([(736, 96, 805, 104), (805, 372, 672, 259), (207, 484, 805, 741)], "#ff0000", 6))
canvas.append(alt.Chart(pdf(x=[P(664)], y=[P(252)])).mark_point(
    shape='triangle-up', filled=True, size=320, color="#ff0000", opacity=1, angle=310).encode(
    x=alt.X('x:Q', scale=None), y=alt.Y('y:Q', scale=None)))

panels = [p.chart() for p in (pa, pb, pc, pd_, pe, pf, pg, ph, pi, pj, pk, pl, pm)]

chart = alt.layer(*panels, *canvas).resolve_scale(x='independent', y='independent').properties(
    width=789, height=983, padding=0, autosize=alt.AutoSizeParams(type='none'), background='white'
).configure_view(stroke=None)

chart.save("out.html", embed_options={"renderer": "svg", "actions": False})
